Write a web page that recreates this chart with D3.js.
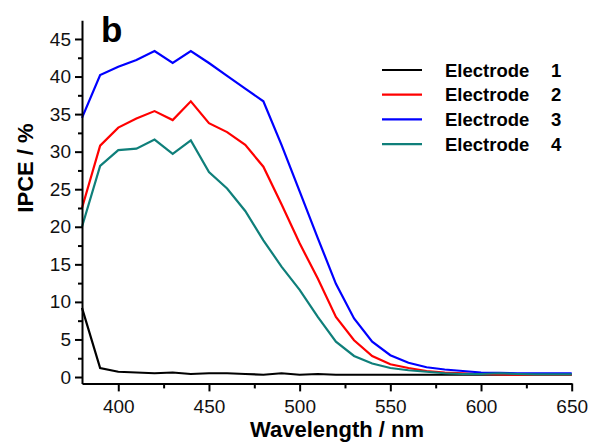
<!DOCTYPE html>
<html>
<head>
<meta charset="utf-8">
<script src="https://cdn.jsdelivr.net/npm/d3@7/dist/d3.min.js"></script>
<style>
  body { margin: 0; background: #fff; }
  svg { display: block; }
</style>
</head>
<body>
<script>
// wavelengths, 10 nm steps
const wavelengths = d3.range(380, 651, 10);

const electrode1 = [9.2, 1.2, 0.7, 0.6, 0.5, 0.6, 0.4, 0.5, 0.5, 0.4, 0.3, 0.5, 0.3, 0.4,
  0.3, 0.3, 0.3, 0.3, 0.3, 0.3, 0.3, 0.3, 0.3, 0.3, 0.3, 0.3, 0.3, 0.3];
const electrode2 = [22.5, 30.8, 33.2, 34.4, 35.4, 34.2, 36.7, 33.8, 32.6, 30.9, 28.0, 23.0,
  17.8, 13.1, 8.0, 4.9, 2.8, 1.7, 1.2, 0.8, 0.6, 0.5, 0.4, 0.35, 0.3, 0.3, 0.3, 0.3];
const electrode3 = [34.5, 40.2, 41.3, 42.2, 43.4, 41.8, 43.4, 41.8, 40.1, 38.4, 36.7, 30.9,
  24.7, 18.5, 12.4, 7.8, 4.7, 2.9, 1.9, 1.3, 1.0, 0.8, 0.6, 0.55, 0.5, 0.5, 0.5, 0.5];
const electrode4 = [20.0, 28.1, 30.2, 30.4, 31.6, 29.7, 31.5, 27.3, 25.1, 22.1, 18.2, 14.7,
  11.6, 8.0, 4.7, 2.8, 1.8, 1.2, 0.9, 0.7, 0.5, 0.4, 0.4, 0.5, 0.4, 0.35, 0.35, 0.35];

const seriesNames = ["Electrode", "Electrode", "Electrode", "Electrode"];
const seriesNumbers = ["1", "2", "3", "4"];
const seriesColors = ["#000000", "#ff0000", "#0000ff", "#0f7f7a"];
const seriesValues = [electrode1, electrode2, electrode3, electrode4];

const xTicks = [400, 450, 500, 550, 600, 650];
const yTicks = [0, 5, 10, 15, 20, 25, 30, 35, 40, 45];

const width = 589, height = 442;
const font = "Arial, 'Liberation Sans', Helvetica, sans-serif";

const svg = d3.select("body").append("svg")
  .attr("width", width)
  .attr("height", height)
  .style("font-family", font);

const xScale = d3.scaleLinear().domain([380, 650]).range([82, 571.7]);
const yScale = d3.scaleLinear().domain([-0.85, 47.5]).range([383.4, 20.2]);

// series
const line = d3.line()
  .x((d, i) => xScale(wavelengths[i]))
  .y(d => yScale(d));

svg.append("g")
  .selectAll("path")
  .data(seriesValues)
  .join("path")
  .attr("d", d => line(d))
  .attr("fill", "none")
  .attr("stroke", (d, i) => seriesColors[i])
  .attr("stroke-width", 2.2)
  .attr("stroke-linejoin", "miter");

// minor ticks
svg.append("g")
  .attr("transform", `translate(0,${yScale.range()[0]})`)
  .call(d3.axisBottom(xScale).tickValues([425, 475, 525, 575, 625]).tickSize(5).tickSizeOuter(0).tickFormat(""))
  .call(g => g.select(".domain").remove())
  .call(g => g.selectAll("line").attr("stroke-width", 2));

svg.append("g")
  .attr("transform", `translate(${xScale.range()[0]},0)`)
  .call(d3.axisLeft(yScale).tickValues(d3.range(2.5, 47.5, 5)).tickSize(4).tickSizeOuter(0).tickFormat(""))
  .call(g => g.select(".domain").remove())
  .call(g => g.selectAll("line").attr("stroke-width", 2));

// major axes
const xAxis = svg.append("g")
  .attr("transform", `translate(0,${yScale.range()[0]})`)
  .call(d3.axisBottom(xScale).tickValues(xTicks).tickSize(8).tickSizeOuter(0).tickPadding(8));

const yAxis = svg.append("g")
  .attr("transform", `translate(${xScale.range()[0]},0)`)
  .call(d3.axisLeft(yScale).tickValues(yTicks).tickSize(7).tickSizeOuter(0).tickPadding(4));

[xAxis, yAxis].forEach(g => {
  g.select(".domain").attr("stroke-width", 2);
  g.selectAll("line").attr("stroke-width", 2);
  g.selectAll("text")
    .attr("fill", "#111")
    .style("font-family", font)
    .style("font-size", "19px");
});

// axis titles
svg.append("text")
  .attr("x", 337)
  .attr("y", 437)
  .attr("text-anchor", "middle")
  .style("font-size", "22px")
  .style("font-weight", "bold")
  .text("Wavelength / nm");

svg.append("text")
  .attr("transform", "translate(33,168) rotate(-90)")
  .attr("text-anchor", "middle")
  .style("font-size", "22px")
  .style("font-weight", "bold")
  .text("IPCE / %");

// panel letter
svg.append("text")
  .attr("x", 101)
  .attr("y", 42)
  .style("font-size", "35px")
  .style("font-weight", "bold")
  .text("b");

// legend
const legend = svg.append("g")
  .selectAll("g")
  .data(seriesNames)
  .join("g")
  .attr("transform", (d, i) => `translate(382,${70 + i * 24.7})`);

legend.append("line")
  .attr("x1", 0).attr("x2", 40)
  .attr("stroke", (d, i) => seriesColors[i])
  .attr("stroke-width", 2.2);

legend.append("text")
  .attr("x", 63)
  .attr("dy", "0.36em")
  .style("font-size", "18.5px")
  .style("font-weight", "bold")
  .text(d => d);

legend.append("text")
  .attr("x", 169)
  .attr("dy", "0.36em")
  .style("font-size", "18.5px")
  .style("font-weight", "bold")
  .text((d, i) => seriesNumbers[i]);
</script>
</body>
</html>
